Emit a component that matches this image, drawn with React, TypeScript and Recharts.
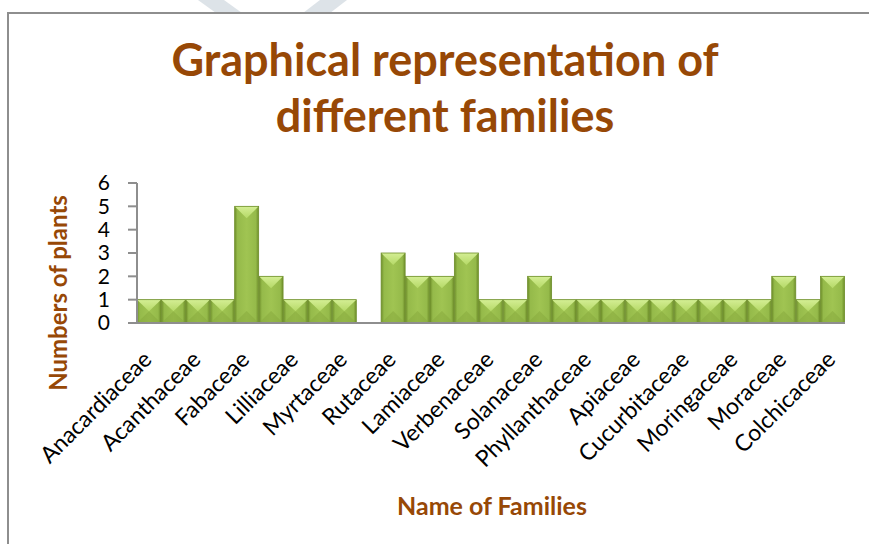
import React from "react";
import { BarChart, Bar, XAxis, YAxis, Label } from "recharts";

// family names as printed on the axis; every other slot carries no label in the original
const categories = [
  "Anacardiaceae", "", "Acanthaceae", "", "Fabaceae", "", "Lilliaceae", "", "Myrtaceae", "",
  "Rutaceae", "", "Lamiaceae", "", "Verbenaceae", "", "Solanaceae", "", "Phyllanthaceae", "",
  "Apiaceae", "", "Cucurbitaceae", "", "Moringaceae", "", "Moraceae", "", "Colchicaceae",
];
const plantCounts = [
  1, 1, 1, 1, 5, 2, 1, 1, 1, 0,
  3, 2, 2, 3, 1, 1, 2, 1, 1, 1,
  1, 1, 1, 1, 1, 1, 2, 1, 2,
];
const yTicks = [0, 1, 2, 3, 4, 5, 6];

const data = plantCounts.map((count, idx) => ({ idx, name: categories[idx], count }));

const BROWN = "#974806";
const FONT = "Lato, 'Open Sans', sans-serif";

function BevelBar(props: any) {
  const { x, y, width, height } = props;
  if (!height || height <= 0) return null;
  const bev = Math.min(width / 2, height / 2, 12);
  return (
    <g>
      <rect x={x} y={y} width={width} height={height} fill="url(#barBody)" />
      {/* bottom bevel */}
      <polygon
        points={`${x},${y + height} ${x + width},${y + height} ${x + width / 2},${y + height - bev}`}
        fill="#86A83C"
        opacity={0.5}
      />
      {/* top bevel */}
      <polygon
        points={`${x},${y} ${x + width},${y} ${x + width / 2},${y + bev}`}
        fill="url(#barTop)"
      />
      <rect x={x} y={y} width={width} height={height} fill="none" stroke="#6F8F2C" strokeWidth={0.8} />
    </g>
  );
}

function FamilyTick(props: any) {
  const { x, y, payload } = props;
  const label = categories[payload.value];
  if (!label) return null;
  const ax = x + 4;
  const ay = y + 30;
  return (
    <text
      x={ax}
      y={ay}
      transform={`rotate(-45, ${ax}, ${ay})`}
      textAnchor="end"
      fontSize={23}
      fontFamily={FONT}
      fill="#000"
    >
      {label}
    </text>
  );
}

export default function App() {
  return (
    <div
      style={{
        position: "absolute",
        left: 0,
        top: 0,
        width: 869,
        height: 544,
        overflow: "hidden",
        background: "#fff",
      }}
    >
      <svg width={869} height={20} style={{ position: "absolute", left: 0, top: 0 }}>
        <polygon points="198,0 224,0 242,13 216,13" fill="#DDE3E8" />
        <polygon points="320,0 347,0 330,13 303,13" fill="#DDE3E8" />
      </svg>
      <div
        style={{
          position: "absolute",
          left: 7,
          top: 12,
          width: 900,
          height: 600,
          border: "2px solid #8E8E8E",
        }}
      />
      <div
        style={{
          position: "absolute",
          left: 0,
          top: 31,
          width: 890,
          textAlign: "center",
          color: BROWN,
          fontFamily: FONT,
          fontWeight: 700,
          fontSize: 45,
          lineHeight: "56px",
        }}
      >
        Graphical representation of
        <br />
        different families
      </div>
      <div style={{ position: "absolute", left: 0, top: 0 }}>
        <BarChart
          width={869}
          height={544}
          data={data}
          barCategoryGap={0}
          margin={{ top: 183, right: 24, bottom: 0, left: 0 }}
        >
          <defs>
            <linearGradient id="barBody" x1="0" y1="0" x2="1" y2="0">
              <stop offset="0%" stopColor="#6E8E2A" />
              <stop offset="12%" stopColor="#95BA4A" />
              <stop offset="50%" stopColor="#A0C452" />
              <stop offset="88%" stopColor="#95BA4A" />
              <stop offset="100%" stopColor="#6E8E2A" />
            </linearGradient>
            <linearGradient id="barTop" x1="0" y1="0" x2="0" y2="1">
              <stop offset="0%" stopColor="#D4EE94" />
              <stop offset="100%" stopColor="#B5D967" />
            </linearGradient>
          </defs>
          <XAxis
            dataKey="idx"
            type="category"
            interval={0}
            tickLine={false}
            axisLine={{ stroke: "#8E8E8E", strokeWidth: 2 }}
            tick={<FamilyTick />}
            height={221}
          >
            <Label
              content={() => (
                <text
                  x={492}
                  y={515}
                  textAnchor="middle"
                  fontSize={25}
                  fontWeight={700}
                  fontFamily={FONT}
                  fill={BROWN}
                >
                  Name of Families
                </text>
              )}
            />
          </XAxis>
          <YAxis
            width={137}
            domain={[0, 6]}
            ticks={yTicks}
            interval={0}
            tickSize={9}
            tickMargin={18}
            tickLine={{ stroke: "#8E8E8E", strokeWidth: 2 }}
            axisLine={{ stroke: "#8E8E8E", strokeWidth: 2 }}
            tick={{ fontSize: 21, fontFamily: FONT, fill: "#000" }}
          >
            <Label
              content={() => (
                <text
                  x={67}
                  y={293}
                  transform="rotate(-90, 67, 293)"
                  textAnchor="middle"
                  fontSize={24}
                  fontWeight={700}
                  fontFamily={FONT}
                  fill={BROWN}
                >
                  Numbers of plants
                </text>
              )}
            />
          </YAxis>
          <Bar dataKey="count" shape={<BevelBar />} isAnimationActive={false} />
        </BarChart>
      </div>
    </div>
  );
}
